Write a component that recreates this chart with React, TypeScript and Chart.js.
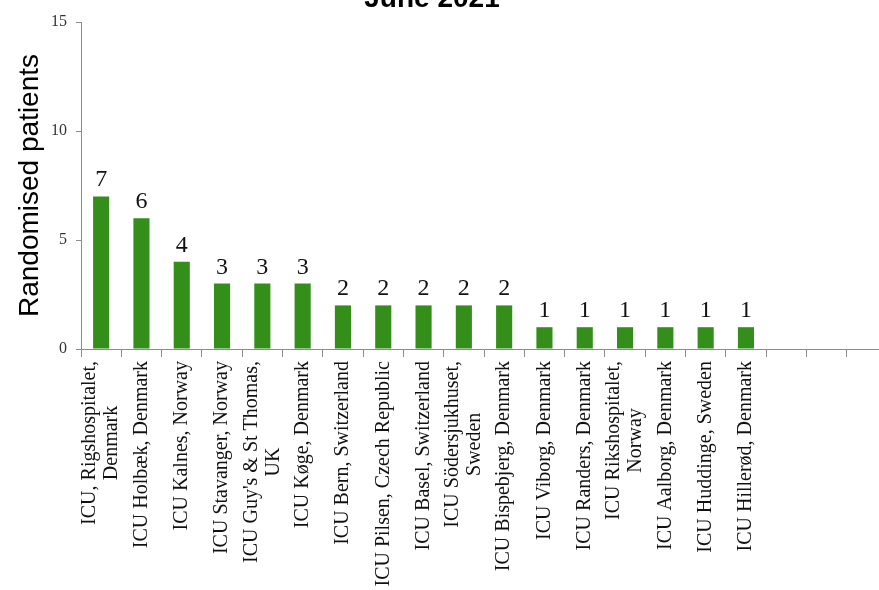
import React, { useEffect, useRef } from "react";
import { Chart, registerables } from "chart.js";

Chart.register(...registerables);

const categories: string[][] = [
  ["ICU, Rigshospitalet,", "Denmark"],
  ["ICU Holbæk, Denmark"],
  ["ICU Kalnes, Norway"],
  ["ICU Stavanger, Norway"],
  ["ICU Guy's & St Thomas,", "UK"],
  ["ICU Køge, Denmark"],
  ["ICU Bern, Switzerland"],
  ["ICU Pilsen, Czech Republic"],
  ["ICU Basel, Switzerland"],
  ["ICU Södersjukhuset,", "Sweden"],
  ["ICU Bispebjerg, Denmark"],
  ["ICU Viborg, Denmark"],
  ["ICU Randers, Denmark"],
  ["ICU Rikshospitalet,", "Norway"],
  ["ICU Aalborg, Denmark"],
  ["ICU Huddinge, Sweden"],
  ["ICU Hillerød, Denmark"],
  [""],
  [""],
  [""],
];

const patients: (number | null)[] = [7, 6, 4, 3, 3, 3, 2, 2, 2, 2, 2, 1, 1, 1, 1, 1, 1, null, null, null];

const yTicks: number[] = [0, 5, 10, 15];

const titleText = "June 2021";
const yAxisTitle = "Randomised patients";

const SERIF = "'Liberation Serif', 'Times New Roman', serif";
const SANS = "'Liberation Sans', Arial, sans-serif";

const customPlugin = {
  id: "customText",
  afterDraw(chart: any) {
    const ctx = chart.ctx;
    const xs = chart.scales.x;
    const meta = chart.getDatasetMeta(0);
    ctx.save();
    // title
    ctx.fillStyle = "#000";
    ctx.font = `bold 28px ${SANS}`;
    ctx.textAlign = "center";
    ctx.textBaseline = "alphabetic";
    ctx.fillText(titleText, 432, 7);

    // value labels
    ctx.font = `24px ${SERIF}`;
    ctx.fillStyle = "#111";
    ctx.textBaseline = "alphabetic";
    meta.data.forEach((el: any, i: number) => {
      const v = patients[i];
      if (v == null) return;
      ctx.fillText(String(v), el.x, el.y - 10);
    });

    // x labels, rotated, lines centered
    ctx.font = `20px ${SERIF}`;
    ctx.fillStyle = "#111";
    const top = xs.top + 12;
    const lh = 22;
    categories.forEach((lines, i) => {
      const cx = xs.getPixelForValue(i);
      let maxW = 0;
      lines.forEach((l) => (maxW = Math.max(maxW, ctx.measureText(l).width)));
      ctx.save();
      ctx.translate(cx, top);
      ctx.rotate(-Math.PI / 2);
      ctx.textAlign = "center";
      ctx.textBaseline = "middle";
      const n = lines.length;
      lines.forEach((l, j) => {
        ctx.fillText(l, -maxW / 2, (j - (n - 1) / 2) * lh);
      });
      ctx.restore();
    });
    ctx.restore();
  },
};

export default function App() {
  const ref = useRef<HTMLCanvasElement | null>(null);
  useEffect(() => {
    document.body.style.margin = "0";
    const canvas = ref.current!;
    const chart = new Chart(canvas, {
      type: "bar",
      data: {
        labels: categories.map((c) => c.join(" ")),
        datasets: [
          {
            data: patients as any,
            backgroundColor: "#338e1a",
            borderWidth: 0,
            barPercentage: 0.4,
            categoryPercentage: 1,
          },
        ],
      },
      options: {
        animation: false,
        responsive: false,
        devicePixelRatio: 1,
        layout: { padding: { top: 22, right: 1, bottom: 0, left: 0 } },
        plugins: {
          legend: { display: false },
          tooltip: { enabled: false },
          title: { display: false },
        },
        scales: {
          x: {
            offset: true,
            grid: {
              display: true,
              drawOnChartArea: false,
              drawTicks: true,
              tickLength: 8,
              color: "#8c8c8c",
              offset: true,
            },
            border: { display: true, color: "#8c8c8c", width: 1 },
            ticks: { display: false },
            afterFit: (scale: any) => {
              scale.height = 590 - 349;
            },
          },
          y: {
            min: 0,
            max: 15,
            afterBuildTicks: (scale: any) => {
              scale.ticks = yTicks.map((v) => ({ value: v }));
            },
            grid: {
              display: true,
              drawOnChartArea: false,
              drawTicks: true,
              tickLength: 5,
              color: "#8c8c8c",
            },
            border: { display: true, color: "#8c8c8c", width: 1 },
            ticks: {
              font: { family: SERIF, size: 16 },
              color: "#333",
              padding: 9,
            },
            title: {
              display: true,
              text: yAxisTitle,
              font: { family: SANS, size: 28 },
              color: "#000",
              padding: { top: 13, bottom: 0 },
            },
            afterFit: (scale: any) => {
              scale.width = 81;
            },
          },
        },
      },
      plugins: [customPlugin],
    });
    return () => chart.destroy();
  }, []);
  return (
    <div style={{ position: "absolute", left: 0, top: 0, width: 879, height: 590, overflow: "hidden", background: "#fff" }}>
      <canvas ref={ref} width={888} height={590} style={{ display: "block" }} />
    </div>
  );
}
